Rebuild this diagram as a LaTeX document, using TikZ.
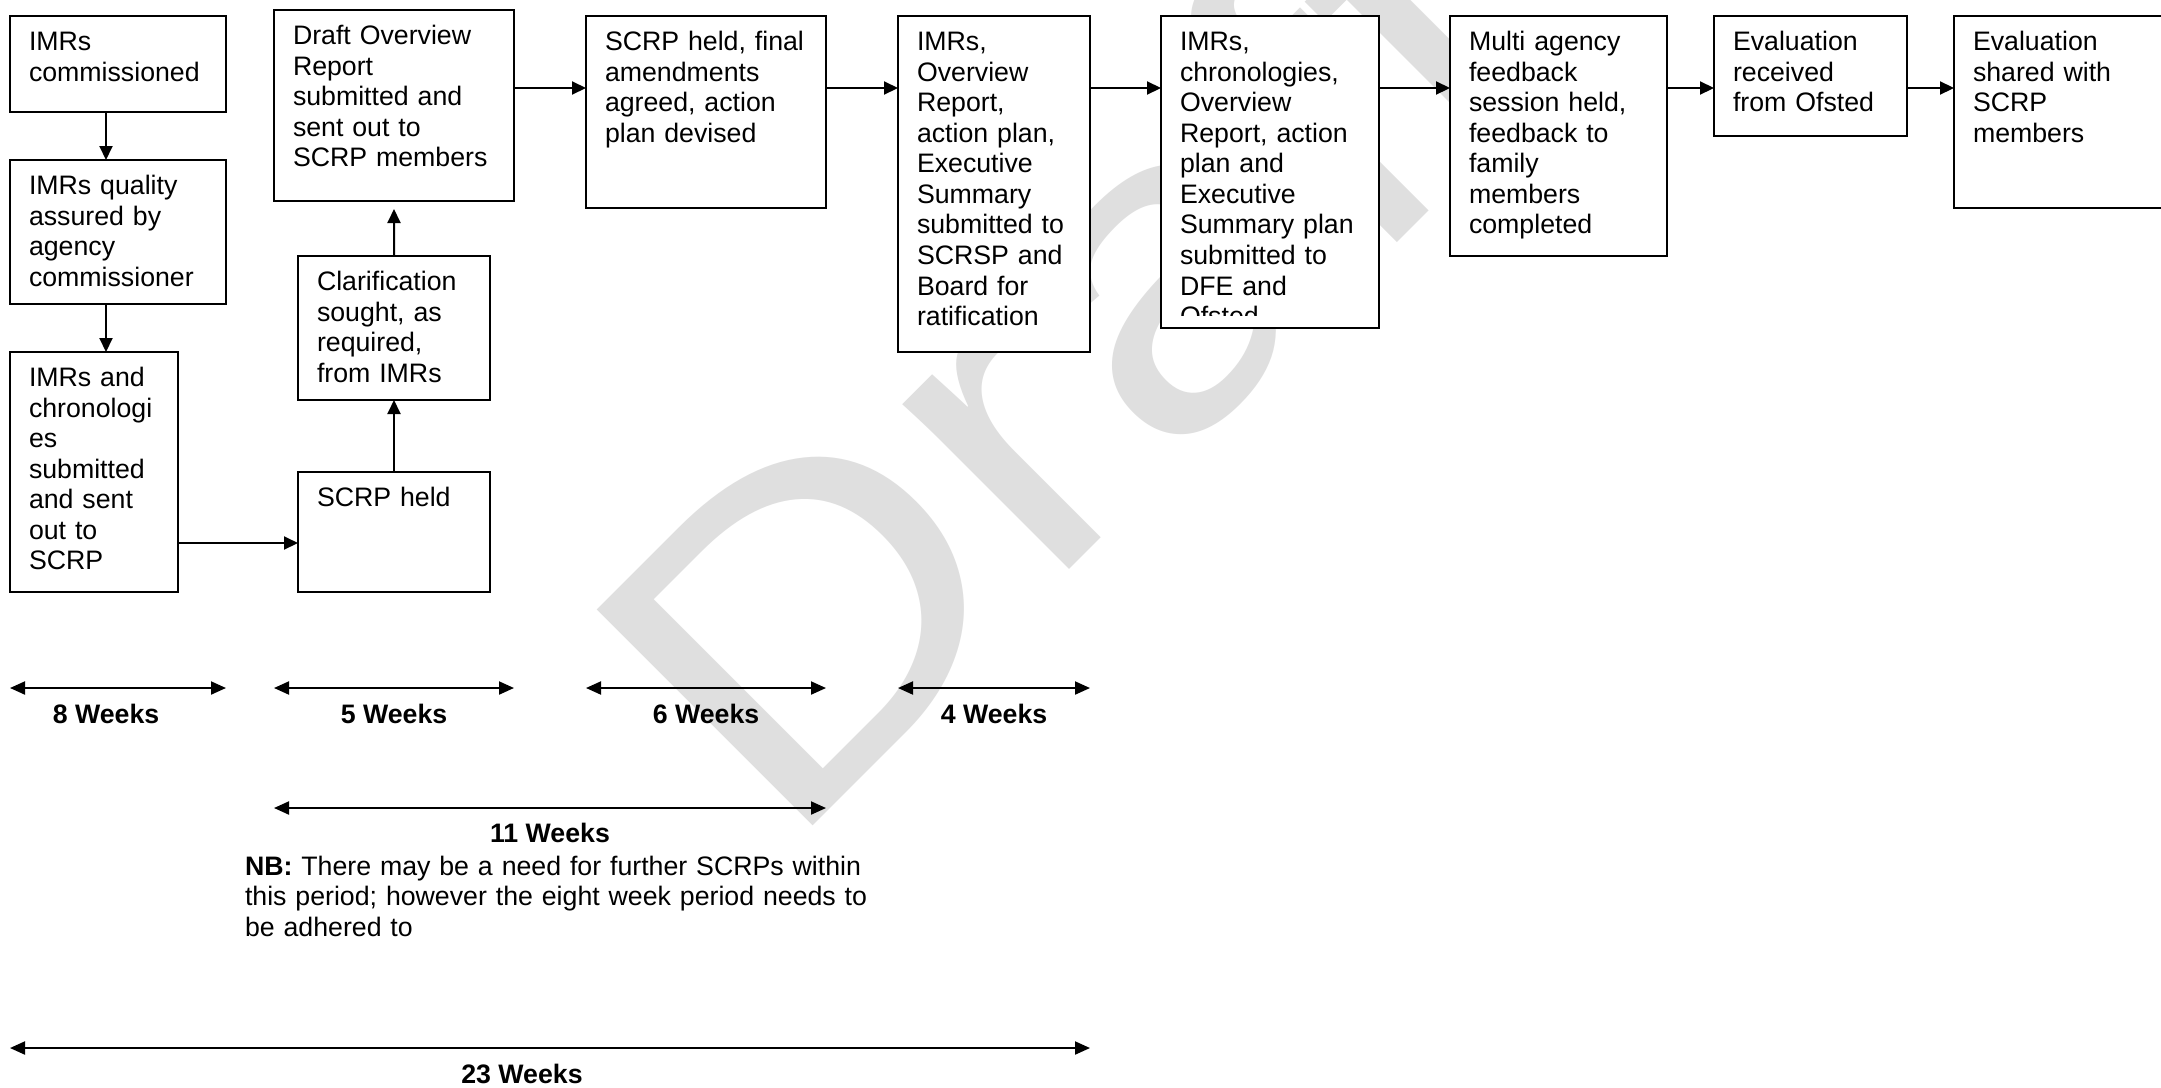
\documentclass[tikz,border=0pt]{standalone}
\usepackage{fontspec}
\setmainfont{Liberation Sans}
\usetikzlibrary{arrows.meta}

\begin{document}
\begin{tikzpicture}[x=.1mm, y=.1mm,
    every node/.style={inner sep=0pt, outer sep=0pt},
    stage/.style={draw=black, fill=white, line width=.2mm, anchor=north west, align=left,
                  inner xsep=1.9mm, inner ysep=0pt, text height=3.45mm,
                  font=\fontsize{7.6}{8.7}\selectfont},
    wlab/.style ={anchor=base, font=\fontsize{7.6}{8.7}\selectfont\bfseries},
    note/.style ={anchor=base west, align=left, text width=64mm,
                  font=\fontsize{7.6}{8.7}\selectfont},
    wmark/.style={anchor=base west, text=gray!25, rotate=45, xscale=1.15,
                  font=\fontsize{126.3}{130}\selectfont},
    ar/.style   ={-{Triangle[length=1.4mm,width=1.3mm]}, line width=.2mm},
    dur/.style  ={{Triangle[length=1.5mm,width=1.3mm]}-{Triangle[length=1.5mm,width=1.3mm]},
                  line width=.2mm}]

\useasboundingbox[fill=white] (0,0) rectangle (2161,-1087);

% ── watermark ───────────────────────────────────────────────────────────
\node[wmark] (wm) at (783.5,-855.5) {Draft};

% ── first column: IMRs ──────────────────────────────────────────────────
\node[stage, text width=17.8mm, text depth=6.15mm] (com) at (10,-16)
  {IMRs\\commissioned};
\node[stage, text width=17.8mm, text depth=10.95mm] (qa) at (10,-160)
  {IMRs quality\\assured by\\agency\\commissioner};
\node[stage, text width=13.0mm, text depth=20.55mm] (sub) at (10,-352)
  {IMRs and\\chronologi\\es\\submitted\\and sent\\out to\\SCRP};

% ── second column: panel and overview report ─────────────────────────────
\node[stage, text width=20.2mm, text depth=15.65mm] (dor) at (274,-10)
  {Draft Overview\\Report\\submitted and\\sent out to\\SCRP members};
\node[stage, text width=15.4mm, text depth=10.95mm] (clar) at (298,-256)
  {Clarification\\sought, as\\required,\\from IMRs};
\node[stage, text width=15.4mm, text depth=8.55mm] (held) at (298,-472)
  {SCRP held};

% ── top row ─────────────────────────────────────────────────────────────
\node[stage, text width=20.2mm, text depth=15.75mm] (fin) at (586,-16)
  {SCRP held, final\\amendments\\agreed, action\\plan devised};
\node[stage, text width=15.4mm, text depth=30.15mm] (rat) at (898,-16)
  {IMRs,\\Overview\\Report,\\action plan,\\Executive\\Summary\\submitted to\\SCRSP and\\Board for\\ratification};
\node[stage, text width=18.0mm, text depth=27.75mm] (dfe) at (1161,-16)
  {IMRs,\\chronologies,\\Overview\\Report, action\\plan and\\Executive\\Summary plan\\submitted to\\DFE and\\Ofsted};
\fill[white] ([xshift=.1mm,yshift=.1mm]dfe.south west) rectangle ([xshift=-.1mm,yshift=1.2mm]dfe.south east);
\node[stage, text width=17.9mm, text depth=20.55mm] (fb) at (1450,-16)
  {Multi agency\\feedback\\session held,\\feedback to\\family\\members\\completed};
\node[stage, text width=15.5mm, text depth=8.55mm] (rec) at (1714,-16)
  {Evaluation\\received\\from Ofsted};
\node[stage, text width=22.2mm, text depth=15.75mm] (shr) at (1954,-16)
  {Evaluation\\shared with\\SCRP\\members};

% ── arrows ──────────────────────────────────────────────────────────────
\coordinate (row) at (0,-88);
\coordinate (cf) at ([yshift=-1.1mm]held.west);
\draw[ar] ([xshift=-1.2mm]com.south) -- ([xshift=-1.2mm]qa.north);
\draw[ar] ([xshift=-1.2mm]qa.south) -- ([xshift=-1.2mm]qa.south |- sub.north);
\draw[ar] (sub.east |- cf) -- (cf);
\draw[ar] (held.north) -- (clar.south);
\draw[ar, shorten >=.8mm] (clar.north) -- (dor.south);
\draw[ar] (dor.east |- row) -- (fin.west |- row);
\draw[ar] (fin.east |- row) -- (rat.west |- row);
\draw[ar] (rat.east |- row) -- (dfe.west |- row);
\draw[ar] (dfe.east |- row) -- (fb.west |- row);
\draw[ar] (fb.east |- row) -- (rec.west |- row);
\draw[ar] (rec.east |- row) -- (shr.west |- row);

% ── timescales ──────────────────────────────────────────────────────────
\coordinate (wk) at (0,-688);
\coordinate (mid) at (0,-808);
\coordinate (all) at (0,-1048);
\draw[dur] (com.west |- wk) -- (com.east |- wk);
\draw[dur] (dor.west |- wk) -- (dor.east |- wk);
\draw[dur] (fin.west |- wk) -- (fin.east |- wk);
\draw[dur] (rat.west |- wk) -- (rat.east |- wk);
\draw[dur] (dor.west |- mid) -- (fin.east |- mid);
\draw[dur] (com.west |- all) -- (rat.east |- all);

\node[wlab] (w8)  at (106,-723) {8 Weeks};
\node[wlab] (w5)  at (394,-723) {5 Weeks};
\node[wlab] (w6)  at (706,-723) {6 Weeks};
\node[wlab] (w4)  at (994,-723) {4 Weeks};
\node[wlab] (w11) at (550,-842) {11 Weeks};
\node[note] (nb)  at (245,-875)
  {\textbf{NB:} There may be a need for further SCRPs within\\this period; however the eight week period needs to\\be adhered to};
\node[wlab] (w23) at (522,-1083) {23 Weeks};
\end{tikzpicture}
\end{document}
